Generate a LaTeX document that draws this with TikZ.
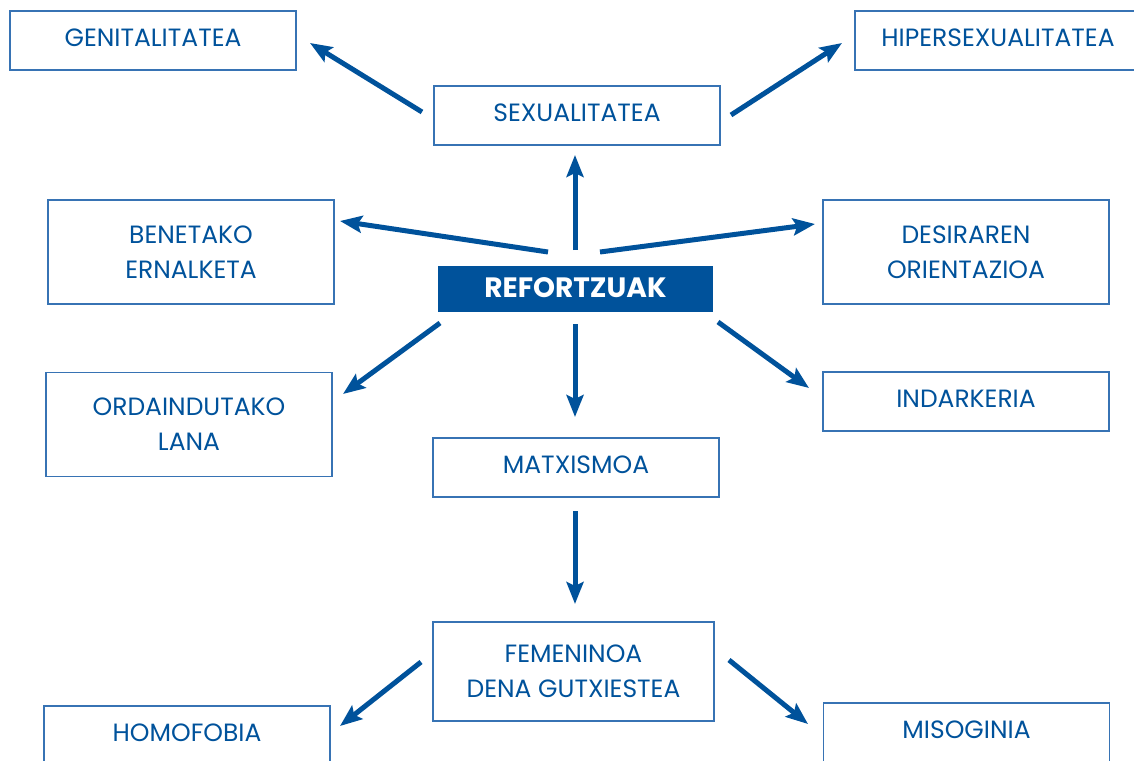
\documentclass[tikz,border=0pt]{standalone}
\usepackage{fontspec}
\setmainfont{Poppins}
\usetikzlibrary{arrows.meta}
\definecolor{rb}{RGB}{0,82,155}
\definecolor{bd}{RGB}{55,115,180}
\begin{document}
\begin{tikzpicture}[x=1pt,y=-1pt,
  box/.style={draw=bd, line width=1.3pt, text=rb, align=center,
    font=\fontsize{25}{35}\selectfont, minimum width=286pt, inner sep=0pt},
  one/.style={box, minimum height=59pt, text depth=5pt},
  two/.style={box, minimum height=104pt},
  main/.style={fill=rb, text=white, font=\bfseries\fontsize{28}{32}\selectfont,
    minimum width=275pt, minimum height=46pt, inner sep=0pt, text depth=2pt},
  arr/.style={draw=rb, line width=5pt, -{Stealth[length=22pt, width=17pt, inset=4pt]}}]
\useasboundingbox (0,0) rectangle (1134,760);
\clip (0,0) rectangle (1134,760);
% nodes
\node[one] (gen) at (153,40.5) {GENITALITATEA};
\node[one] (hip) at (998,40.5) {HIPERSEXUALITATEA};
\node[one] (sex) at (577,115.5) {SEXUALITATEA};
\node[two] (ben) at (191,252) {BENETAKO\\ERNALKETA};
\node[two] (des) at (966,252) {DESIRAREN\\ORIENTAZIOA};
\node[main] (ref) at (575.5,289) {REFORTZUAK};
\node[two] (ord) at (189,424.5) {ORDAINDUTAKO\\LANA};
\node[one] (ind) at (966,401.5) {INDARKERIA};
\node[one] (mat) at (576,467.5) {MATXISMOA};
\node[box, minimum width=281pt, minimum height=99pt] (fem) at (573.5,671.5) {FEMENINOA\\DENA GUTXIESTEA};
\node[one] (hom) at (187,735.5) {HOMOFOBIA};
\node[one] (mis) at (966.5,732.5) {MISOGINIA};
% arrow end points
\coordinate (s1) at (422,112); \coordinate (e1) at (310,43);
\coordinate (s2) at (731,115); \coordinate (e2) at (842,43);
\coordinate (s3) at (575,250); \coordinate (e3) at (575,155);
\coordinate (s4) at (548,252); \coordinate (e4) at (340,221);
\coordinate (s5) at (600,252); \coordinate (e5) at (815,224);
\coordinate (s6) at (440,323); \coordinate (e6) at (343,394);
\coordinate (s7) at (575,324); \coordinate (e7) at (575,417);
\coordinate (s8) at (718,322); \coordinate (e8) at (809,388);
\coordinate (s9) at (575,511); \coordinate (e9) at (575,604);
\coordinate (s10) at (421,662); \coordinate (e10) at (340,726);
\coordinate (s11) at (729,660); \coordinate (e11) at (808,724);
\foreach \i in {1,...,11} {\draw[arr] (s\i) -- (e\i);}
\end{tikzpicture}
\end{document}
